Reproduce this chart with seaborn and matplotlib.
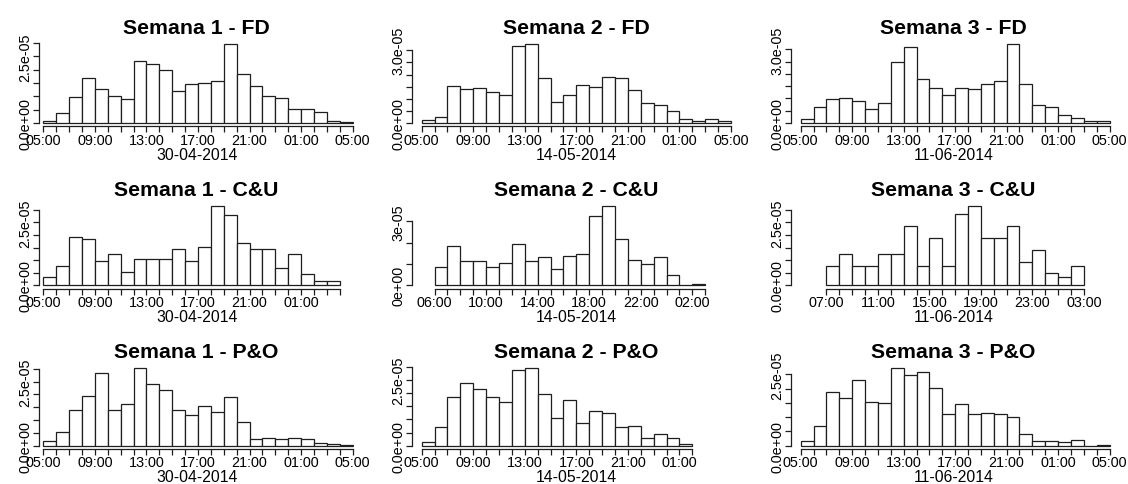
import matplotlib
matplotlib.use("Agg")
import matplotlib.pyplot as plt
import seaborn as sns
import numpy as np
import pandas as pd

sns.set_style("ticks")
plt.rcParams['font.family'] = ['Liberation Sans', 'DejaVu Sans']
plt.rcParams['text.color'] = 'black'
plt.rcParams['axes.labelcolor'] = 'black'

dates = ["30-04-2014", "14-05-2014", "11-06-2014"]
groups = ["FD", "C&U", "P&O"]

# hour where each histogram starts (one bar per hour, >24 = next day)
start_fd = [5, 5, 5]
start_cu = [5, 6, 7]
start_po = [5, 5, 5]

# densities, in 1e-6
fd_s1 = [0.75, 3.6, 9.6, 16.9, 12.75, 10.0, 9.0, 23.4, 22.1, 19.9, 12.0, 14.5,
         15.0, 15.6, 29.6, 18.25, 13.75, 10.0, 9.5, 5.1, 5.1, 4.0, 0.6, 0.5]
fd_s2 = [1.1, 2.35, 15.2, 14.1, 14.6, 12.7, 11.6, 31.8, 32.6, 18.5, 8.8, 11.6,
         15.5, 14.8, 18.9, 18.5, 13.5, 8.1, 7.3, 4.8, 1.5, 0.7, 1.5, 0.7]
fd_s3 = [1.5, 6.5, 9.7, 10.1, 9.0, 5.6, 8.0, 24.8, 31.1, 18.0, 14.2, 11.3,
         14.2, 13.9, 16.1, 17.0, 32.2, 16.1, 7.2, 6.5, 3.1, 2.0, 0.7, 0.8]

cu_s1 = [3.2, 7.6, 19.2, 18.3, 9.8, 12.3, 5.2, 10.5, 10.5, 10.5, 14.6, 9.8,
         15.1, 31.4, 28.1, 16.7, 14.6, 14.6, 6.8, 12.3, 4.5, 1.6, 1.6]
cu_s2 = [8.4, 18.4, 11.25, 11.25, 8.4, 10.6, 19.2, 11.25, 13.1, 7.8, 13.75,
         14.5, 32.3, 37.0, 21.6, 11.7, 10.0, 13.1, 4.7, 0.0, 0.6]
cu_s3 = [7.6, 12.5, 7.6, 7.6, 12.5, 12.5, 23.5, 7.6, 18.7, 7.6, 28.2, 31.4,
         18.7, 18.7, 23.5, 9.2, 13.9, 4.8, 3.2, 7.6]

po_s1 = [1.9, 5.5, 13.9, 19.5, 28.4, 14.0, 16.1, 30.3, 24.2, 21.9, 14.0, 12.1,
         15.6, 13.0, 19.1, 9.1, 2.7, 2.9, 2.7, 2.9, 2.7, 1.2, 0.8, 0.3]
po_s2 = [1.3, 7.2, 18.7, 23.9, 21.6, 18.7, 16.5, 28.9, 29.5, 19.6, 10.5, 17.5,
         8.7, 13.3, 12.5, 7.0, 7.6, 2.8, 4.3, 3.0, 0.8]
po_s3 = [1.75, 7.0, 18.9, 16.8, 23.1, 15.4, 15.1, 27.2, 24.9, 25.8, 20.3, 11.0,
         14.5, 11.0, 11.4, 11.0, 10.2, 4.2, 1.75, 1.75, 1.2, 2.1, 0.0, 0.35]

# y axis: tick step, last tick, labelled tick (in 1e-6) and label format
ytick_step = [[5, 5, 5], [5, 10, 5], [5, 5, 5]]
ytick_top = [[30, 30, 30], [30, 30, 30], [30, 30, 25]]
ytick_lab = [[25, 30, 30], [25, 30, 25], [25, 25, 25]]
ytick_fmt = [["%.1e", "%.1e", "%.1e"], ["%.1e", "%.0e", "%.1e"], ["%.1e", "%.1e", "%.1e"]]

rows = [
    (groups[0], start_fd, [fd_s1, fd_s2, fd_s3]),
    (groups[1], start_cu, [cu_s1, cu_s2, cu_s3]),
    (groups[2], start_po, [po_s1, po_s2, po_s3]),
]

W, H = 1128, 485
fig = plt.figure(figsize=(W / 100, H / 100), dpi=100)

# pixel layout
col_px = [(39.3, 354.0), (412.0, 740.0), (791.3, 1116.0)]
col_xlim = [(4.69, 29.1), (4.25, 29.7), (4.27, 29.5)]
row_px = [(41.8, 127.2), (204.1, 289.5), (366.0, 449.8)]

edge = "#1e1e1e"

for r, (name, starts, series) in enumerate(rows):
    for c in range(3):
        h0 = starts[c]
        n = len(series[c])
        edges = list(range(h0, h0 + n + 1))
        df = pd.DataFrame({"hour": [h + 0.5 for h in edges[:-1]],
                           "dens": [v * 1e-6 for v in series[c]]})
        x0, x1 = col_px[c]
        y0, y1 = row_px[r]
        ax = fig.add_axes([x0 / W, 1 - y1 / H, (x1 - x0) / W, (y1 - y0) / H])
        sns.histplot(data=df, x="hour", weights="dens", bins=edges, stat="count",
                     color="white", edgecolor=edge, linewidth=0.9, alpha=1, ax=ax)
        m = df["dens"].max()
        ax.set_ylim(-0.04 * m, 1.04 * m)
        ax.set_xlim(col_xlim[c])

        ax.spines[['top', 'right']].set_visible(False)
        ax.spines['left'].set_bounds(0, ytick_top[r][c] * 1e-6)
        ax.spines['bottom'].set_bounds(edges[0], edges[-1])
        for s in ['left', 'bottom']:
            ax.spines[s].set_linewidth(0.9)
            ax.spines[s].set_color(edge)

        ax.set_xticks(edges)
        ax.set_xticklabels(["%02d:00" % (h % 24) if i % 4 == 0 else ""
                            for i, h in enumerate(edges)])
        yt = np.arange(0, ytick_top[r][c] + 0.1, ytick_step[r][c])
        ax.set_yticks(yt * 1e-6)
        ax.set_yticklabels([ytick_fmt[r][c] % (v * 1e-6) if v in (0, ytick_lab[r][c]) else ""
                            for v in yt], rotation=90, va="center")
        ax.tick_params(axis='both', direction='out', length=4, width=0.9, color=edge,
                       labelsize=10.4, pad=0.8, labelcolor="black")

        ax.set_xlabel(dates[c], fontsize=11.3, labelpad=0, color="black")
        ax.set_ylabel("")
        ax.set_title("Semana %d - %s" % (c + 1, name), fontweight="bold",
                     fontsize=15.3, pad=5.5, color="black")

fig.savefig("out.png", dpi=100, facecolor="white")
